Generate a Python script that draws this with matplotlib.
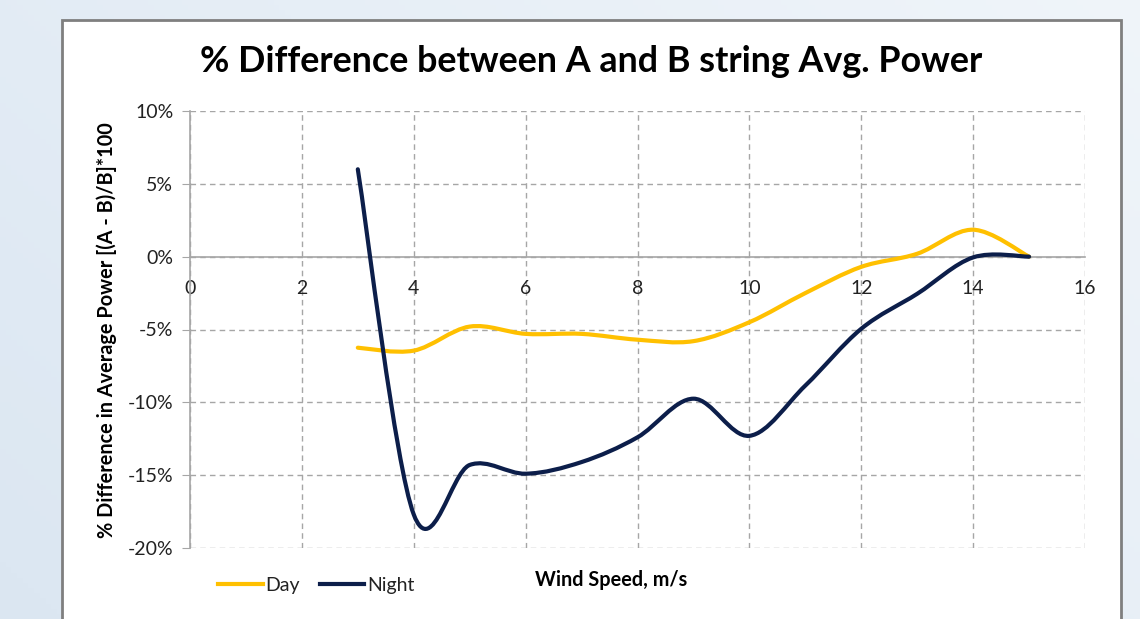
import numpy as np
import matplotlib
matplotlib.use("Agg")
import matplotlib.pyplot as plt
from matplotlib.path import Path
from matplotlib.patches import PathPatch, Rectangle
from matplotlib.lines import Line2D
from matplotlib.ticker import FuncFormatter, MultipleLocator

plt.rcParams['font.family'] = ['Lato', 'DejaVu Sans']

# ---- data ----
wind_speed = [3, 4, 5, 6, 7, 8, 9, 10, 11, 12, 13, 14, 15]
day_pct = [-6.25, -6.45, -4.8, -5.3, -5.3, -5.7, -5.8, -4.5, -2.5, -0.7, 0.2, 1.85, 0.0]
night_pct = [6.0, -17.7, -14.3, -14.9, -14.1, -12.4, -9.75, -12.3, -8.85, -4.95, -2.55, -0.05, 0.0]
series_names = ["Day", "Night"]
series_colors = ["#FFC000", "#0C1E4A"]
title = "% Difference between A and B string Avg. Power"
x_label = "Wind Speed, m/s"
y_label = "% Difference in Average Power [(A - B)/B]*100"


def smooth_path(xs, ys):
    """Excel-like smoothed line: cubic Bezier segments (Catmull-Rom control points)."""
    p = np.column_stack([xs, ys]).astype(float)
    n = len(p)
    verts = [p[0]]
    codes = [Path.MOVETO]
    for i in range(n - 1):
        p0 = p[i - 1] if i > 0 else p[i]
        p1 = p[i]
        p2 = p[i + 1]
        p3 = p[i + 2] if i + 2 < n else p[i + 1]
        c1 = p1 + (p2 - p0) / 6.0
        c2 = p2 - (p3 - p1) / 6.0
        verts += [c1, c2, p2]
        codes += [Path.CURVE4] * 3
    return Path(verts, codes)


W, H = 1140, 619
fig = plt.figure(figsize=(W / 100, H / 100), dpi=100)

# background gradient + white chart box
bg = fig.add_axes([0, 0, 1, 1], zorder=-10)
gx = np.linspace(0, 1, 200)
gy = np.linspace(0, 1, 120)
GX, GY = np.meshgrid(gx, gy)
c_a = np.array([0.84, 0.89, 0.94])
c_b = np.array([0.94, 0.96, 0.98])
t = np.clip(0.5 * GX + 0.5 * (1 - GY) * 0.6 + 0.2, 0, 1)[..., None]
img = c_a * (1 - t) + c_b * t
bg.imshow(img, extent=[0, 1, 0, 1], aspect='auto', origin='upper')
bg.add_patch(Rectangle((62 / W, -0.05), (1121 - 62) / W, 1 - 20 / H + 0.05,
                       facecolor='white', edgecolor='#7F7F7F', linewidth=2,
                       transform=bg.transAxes))
bg.set_xlim(0, 1)
bg.set_ylim(0, 1)
bg.axis('off')

ax = fig.add_axes([190 / W, 1 - 548 / H, (1085 - 190) / W, (548 - 111) / H])
ax.set_xlim(0, 16)
ax.set_ylim(-20, 10)
ax.xaxis.set_major_locator(MultipleLocator(2))
ax.yaxis.set_major_locator(MultipleLocator(5))
ax.yaxis.set_major_formatter(FuncFormatter(lambda v, p: f"{v:.0f}%"))

ax.grid(True, color='#A6A6A6', linestyle=(0, (4, 3)), linewidth=1.0)
ax.set_axisbelow(True)
for s in ['top', 'right']:
    ax.spines[s].set_visible(False)
ax.spines['left'].set_color('#A6A6A6')
ax.spines['left'].set_linewidth(1.2)
ax.spines['bottom'].set_position(('data', 0))
ax.spines['bottom'].set_color('#A6A6A6')
ax.spines['bottom'].set_linewidth(1.2)
ax.tick_params(axis='y', length=6, color='#A6A6A6', labelsize=14, pad=6, labelcolor='#222222')
ax.tick_params(axis='x', length=0, labelsize=14, pad=17, labelcolor='#222222')

for ys, col in zip([day_pct, night_pct], series_colors):
    ax.add_patch(PathPatch(smooth_path(wind_speed, ys), facecolor='none',
                           edgecolor=col, linewidth=3.0, capstyle='round',
                           joinstyle='round', zorder=3))

fig.text(591 / W, 1 - 62 / H, title, ha='center', va='center',
         fontsize=25.8, fontweight='bold', color='black')
fig.text(611 / W, 1 - 580 / H, x_label, ha='center', va='center',
         fontsize=14.3, fontweight='bold', color='black')
fig.text(107 / W, 1 - 330 / H, y_label, ha='center', va='center', rotation=90,
         fontsize=14.3, fontweight='bold', color='black')

handles = [Line2D([0], [0], color=c, linewidth=3.0) for c in series_colors]
fig.legend(handles, series_names, loc='center left',
           bbox_to_anchor=(218 / W, 1 - 585 / H), ncol=2, frameon=False,
           fontsize=14, handlelength=2.3, handletextpad=0.15,
           columnspacing=1.0, borderaxespad=0, borderpad=0,
           labelcolor='#222222')

fig.savefig("out.png", dpi=100)
